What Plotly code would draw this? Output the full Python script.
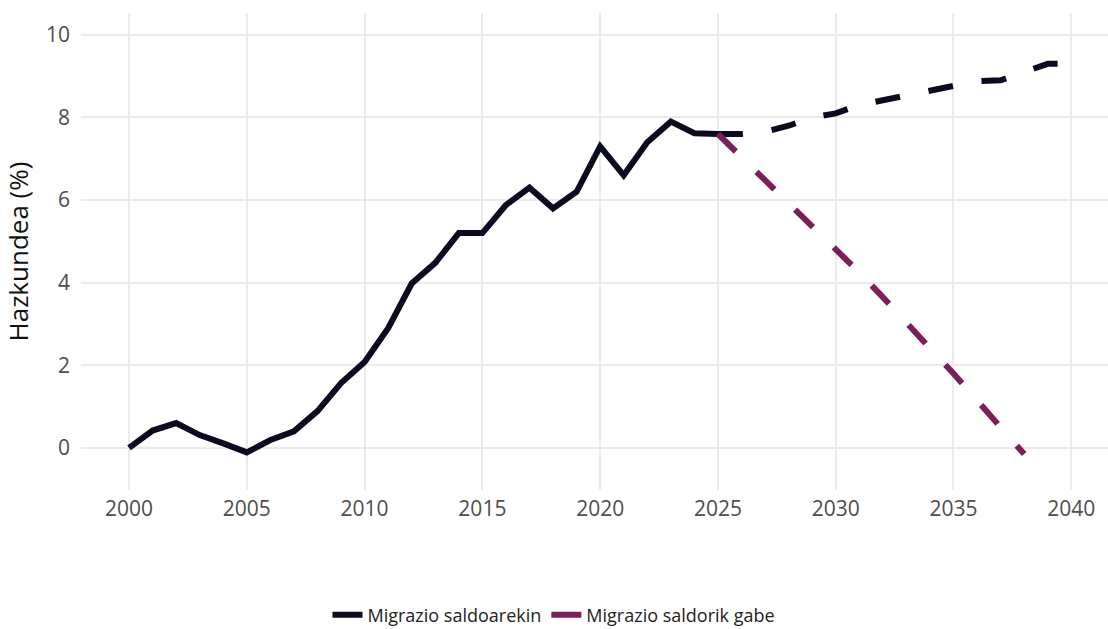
import plotly.graph_objects as go

# Historical data (solid)
hist_years = list(range(2000, 2026))
hist_values = [0.0, 0.42, 0.6, 0.31, 0.11, -0.11, 0.19, 0.4, 0.89, 1.57, 2.08, 2.9, 3.98,
               4.48, 5.2, 5.2, 5.88, 6.3, 5.8, 6.2, 7.3, 6.6, 7.4, 7.9, 7.62, 7.6]

# Projection with migration (dashed, dark)
proj_years = list(range(2025, 2041))
proj_with = [7.6, 7.6, 7.65, 7.8, 8.0, 8.1, 8.3, 8.42, 8.53, 8.64, 8.75, 8.88, 8.9, 9.1, 9.3, 9.3]

# Projection without migration (dashed, magenta)
nomig_years = list(range(2025, 2039))
proj_without = [7.6, 7.05, 6.5, 5.95, 5.4, 4.85, 4.25, 3.65, 3.05, 2.45, 1.8, 1.15, 0.5, -0.15]

x_ticks = [2000, 2005, 2010, 2015, 2020, 2025, 2030, 2035, 2040]
y_ticks = [0, 2, 4, 6, 8, 10]

series_names = ["Migrazio saldoarekin", "Migrazio saldorik gabe"]
DARK = "#0b0b1f"
MAG = "#7b1e5a"
DASH = "25px,29px"
LW = 6

fig = go.Figure()
fig.add_trace(go.Scatter(x=hist_years, y=hist_values, mode="lines",
                         line=dict(color=DARK, width=LW), showlegend=False))
fig.add_trace(go.Scatter(x=proj_years, y=proj_with, mode="lines",
                         line=dict(color=DARK, width=LW, dash=DASH), showlegend=False))
fig.add_trace(go.Scatter(x=nomig_years, y=proj_without, mode="lines",
                         line=dict(color=MAG, width=LW, dash=DASH), showlegend=False))
# legend entries
fig.add_trace(go.Scatter(x=[None], y=[None], mode="lines", name=series_names[0],
                         line=dict(color=DARK, width=LW, dash="solid")))
fig.add_trace(go.Scatter(x=[None], y=[None], mode="lines", name=series_names[1],
                         line=dict(color=MAG, width=LW, dash="solid")))

fig.update_layout(
    width=1108, height=629,
    paper_bgcolor="white", plot_bgcolor="white",
    margin=dict(l=81, r=0, t=13, b=139),
    font=dict(family="Open Sans", size=21, color="#4d4d4d"),
    showlegend=True,
    legend=dict(orientation="h", xref="container", yref="container",
                x=0.5, xanchor="center", y=0.022, yanchor="middle",
                font=dict(size=18, color="#222222"),
                tracegroupgap=0),
    xaxis=dict(range=[1997.96, 2041.56], tickvals=x_ticks, showgrid=True,
               gridcolor="#ebebeb", gridwidth=2, zeroline=False, showline=False,
               ticks="", tickfont=dict(size=21, color="#4d4d4d"), ticklabelstandoff=4,
               automargin=False),
    yaxis=dict(range=[-1.02, 10.53], tickvals=y_ticks, showgrid=True,
               gridcolor="#ebebeb", gridwidth=2, zeroline=False, showline=False,
               ticks="", tickfont=dict(size=21, color="#4d4d4d"), ticklabelstandoff=10,
               automargin=False,
               title=dict(text="Hazkundea (%)", font=dict(size=26, color="#111111"), standoff=10)),
)

fig.write_html("out.html", config={"displayModeBar": False},
               post_script="document.body.style.margin='0';document.body.style.padding='0';")
